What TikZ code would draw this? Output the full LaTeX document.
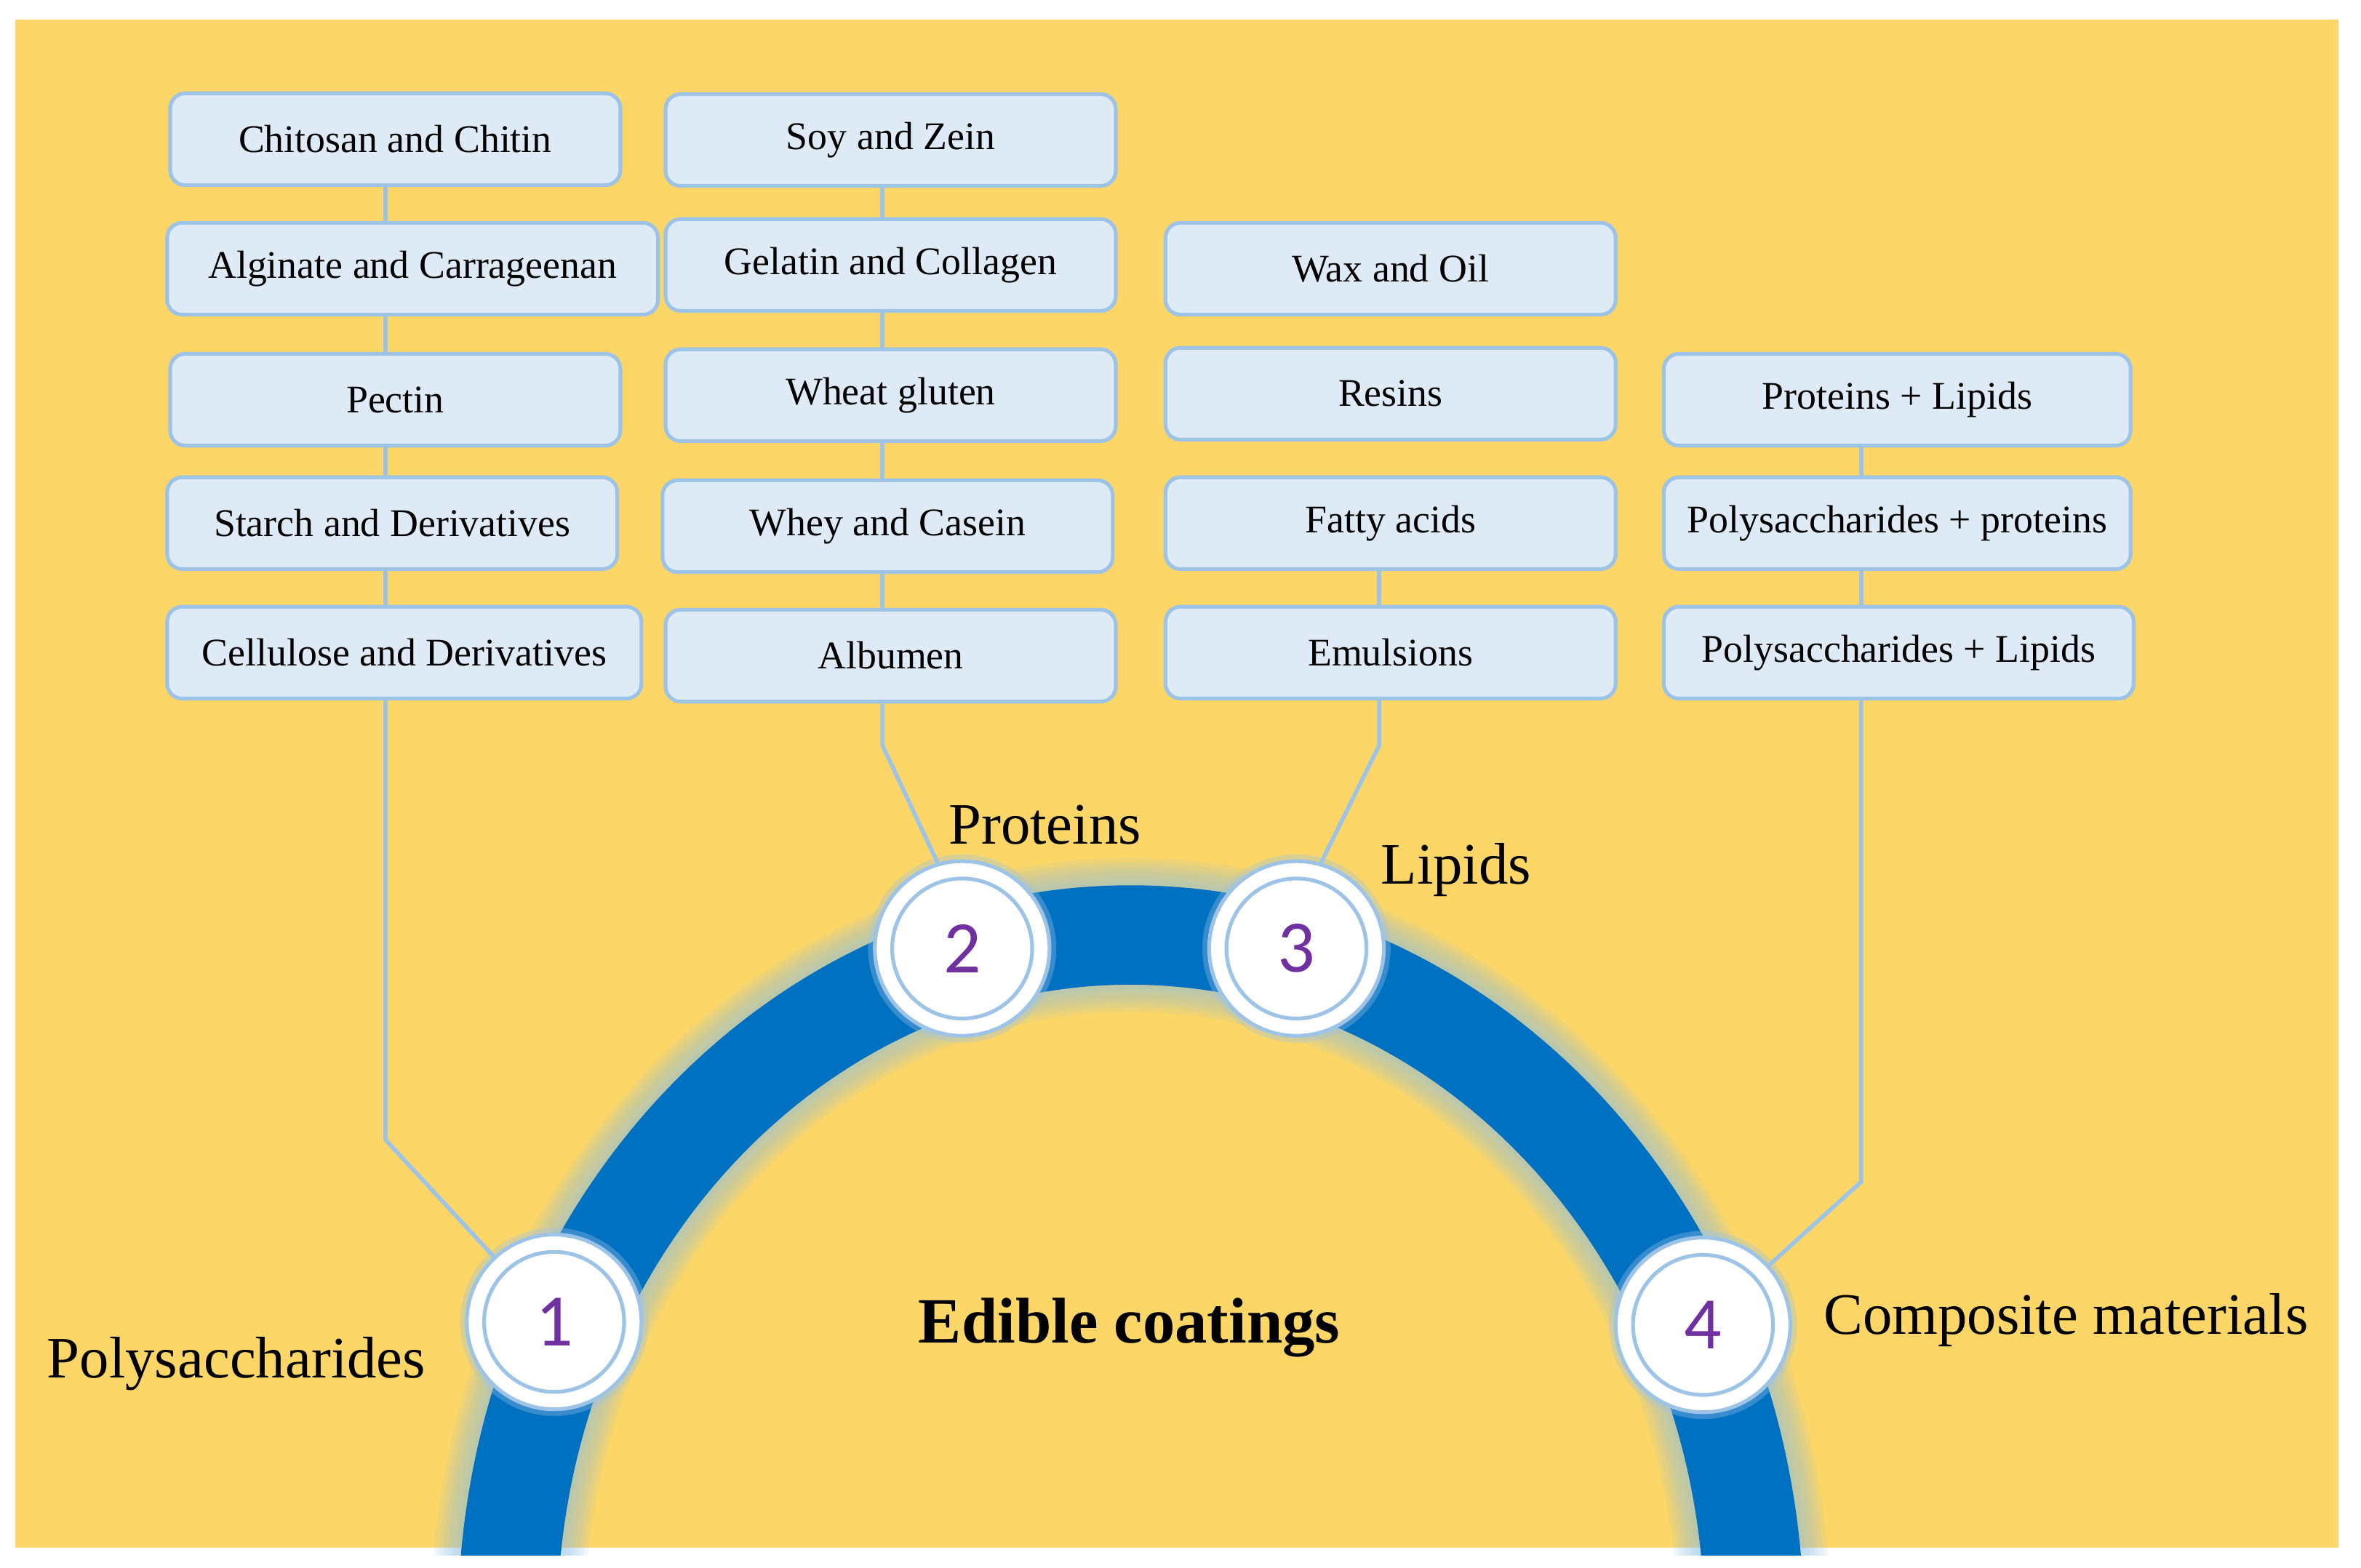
\documentclass[tikz,border=0pt]{standalone}
\usepackage{fontspec}
\setmainfont{Liberation Serif}
\newfontfamily\numfont{Carlito}
\usepackage{tikz}
\usetikzlibrary{calc}
\definecolor{yyy}{RGB}{252,214,102}
\definecolor{lll}{RGB}{222,235,247}
\definecolor{rrr}{RGB}{157,195,230}
\definecolor{bbb}{RGB}{0,112,192}
\definecolor{ppp}{RGB}{112,48,160}
\tikzstyle{bx}=[draw=rrr,line width=0.5mm,fill=lll,rounded corners=2mm,minimum height=12.2mm,inner sep=0pt,font=\fontsize{14.8}{17}\selectfont]
\tikzstyle{ln}=[draw=rrr,line width=0.55mm]
\tikzstyle{rg}=[circle,draw=rrr,line width=0.5mm,fill=white,minimum size=23.2mm,inner sep=0pt,text=ppp,font=\numfont\fontsize{28}{30}\selectfont,preaction={draw=rrr,line width=1.8mm,opacity=.35}]
\tikzstyle{gl}=[inner sep=0pt,font=\fontsize{22.2}{26}\selectfont]

\begin{document}
\begin{tikzpicture}[x=0.2mm,y=-0.2mm]
\useasboundingbox (0,0) rectangle (1568,1041);
\fill[yyy] (10,13) rectangle (1553,1028);
% the coating band
\begin{scope}
\clip (10,0) rectangle (1553,1033);
\foreach \w in {36,30,24,18,12,6}
  \draw[bbb!45,opacity=.13,line width={(66+\w)*0.2mm}] (337.6,1056) arc[start angle=183,end angle=357,x radius=414,y radius=459];
\draw[bbb,line width=13.2mm] (337.6,1056) arc[start angle=183,end angle=357,x radius=414,y radius=459];
\end{scope}

% polysaccharides
\node[bx,minimum width=59.8mm] (p1) at (262.5,92.5) {Chitosan and Chitin};
\node[bx,minimum width=65.2mm] (p2) at (274,178.5) {Alginate and Carrageenan};
\node[bx,minimum width=59.8mm] (p3) at (262.5,265.5) {Pectin};
\node[bx,minimum width=59.8mm] (p4) at (260.5,347.5) {Starch and Derivatives};
\node[bx,minimum width=63mm] (p5) at (268.5,433.5) {Cellulose and Derivatives};
% proteins
\node[bx,minimum width=59.8mm] (r1) at (591.5,93) {Soy and Zein};
\node[bx,minimum width=59.8mm] (r2) at (591.5,176) {Gelatin and Collagen};
\node[bx,minimum width=59.8mm] (r3) at (591.5,262.5) {Wheat gluten};
\node[bx,minimum width=59.8mm] (r4) at (589.5,349.5) {Whey and Casein};
\node[bx,minimum width=59.8mm] (r5) at (591.5,435.5) {Albumen};
% lipids
\node[bx,minimum width=59.8mm] (l1) at (923.5,178.5) {Wax and Oil};
\node[bx,minimum width=59.8mm] (l2) at (923.5,261.5) {Resins};
\node[bx,minimum width=59.8mm] (l3) at (923.5,347.5) {Fatty acids};
\node[bx,minimum width=59.8mm] (l4) at (923.5,433.5) {Emulsions};
% composites
\node[bx,minimum width=62mm] (m1) at (1260,265.5) {Proteins + Lipids};
\node[bx,minimum width=62mm] (m2) at (1260,347.5) {Polysaccharides + proteins};
\node[bx,minimum width=62.4mm] (m3) at (1261,433.5) {Polysaccharides + Lipids};

\node[rg] (c1) at (368,878) {1};
\node[rg] (c2) at (639,630) {2};
\node[rg] (c3) at (861,630) {3};
\node[rg] (c4) at (1131,880) {4};
\foreach \c in {c1,c2,c3,c4}
  \draw[rrr,line width=0.5mm] (\c) circle[radius=9.3mm];

\coordinate (k1) at (256,0);
\coordinate (k2) at (586,0);
\coordinate (k3) at (916,0);
\coordinate (k4) at (1236,0);
\coordinate (b1) at (256,757);
\coordinate (b2) at (586,495);
\coordinate (b3) at (916,495);
\coordinate (b4) at (1236,785);
\foreach \u/\v in {p1/p2,p2/p3,p3/p4,p4/p5}
  \draw[ln] (\u.south -| k1) -- (\v.north -| k1);
\foreach \u/\v in {r1/r2,r2/r3,r3/r4,r4/r5}
  \draw[ln] (\u.south -| k2) -- (\v.north -| k2);
\draw[ln] (l3.south -| k3) -- (l4.north -| k3);
\foreach \u/\v in {m1/m2,m2/m3}
  \draw[ln] (\u.south -| k4) -- (\v.north -| k4);
\draw[ln] (p5.south -| k1) -- (b1) -- (c1);
\draw[ln] (r5.south -| k2) -- (b2) -- (c2.106);
\draw[ln] (l4.south -| k3) -- (b3) -- (c3.74);
\draw[ln] (m3.south -| k4) -- (b4) -- (c4);

\node[gl] (n1) at (157,906) {Polysaccharides};
\node[gl] (n2) at (694,548) {Proteins};
\node[gl] (n3) at (967,578) {Lipids};
\node[gl] (n4) at (1372,877) {Composite materials};
\node[font=\bfseries\fontsize{24.4}{28}\selectfont] (ec) at (750,882) {Edible coatings};
\end{tikzpicture}
\end{document}
